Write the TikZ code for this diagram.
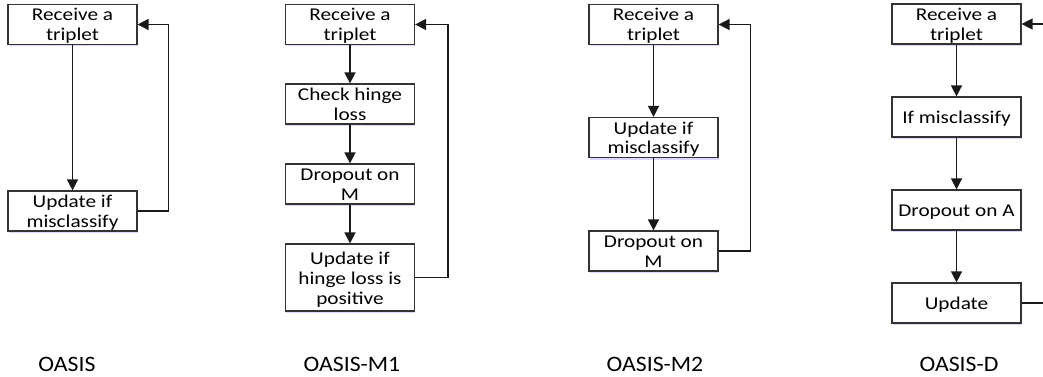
\documentclass[tikz,border=0pt]{standalone}
\usepackage{fontspec}
\newfontfamily\boxfont[FakeStretch=1.18]{Carlito}
\newfontfamily\labfont[FakeStretch=1.08]{Carlito}
\newcommand\tx[1]{\raisebox{-2.5pt}[\height][\depth]{\begin{tabular}{@{}c@{}}#1\end{tabular}}}
\usetikzlibrary{arrows.meta,shadows}
\begin{document}
\begin{tikzpicture}[x=1pt,y=-1pt,
  stepbox/.style={draw=black!80, line width=1.2pt, fill=white, minimum width=129pt,
    minimum height=40pt, inner sep=0pt,
    font=\boxfont\fontsize{18}{20}\selectfont,
    drop shadow={shadow xshift=0.8pt, shadow yshift=-2pt, fill=blue!25!white, opacity=0.6}},
  tallbox/.style={stepbox, minimum height=67pt},
  arr/.style={draw=black!90, line width=1.5pt, -{Triangle[length=11pt,width=11pt]}},
  caption/.style={font=\labfont\fontsize{22}{24}\selectfont, inner sep=0pt}]
\useasboundingbox (0,0) rectangle (1043,377);
\clip (0,0) rectangle (1043,377);
% OASIS
\node[stepbox] (a1) at (72.5,24.5) {\tx{Receive a\\triplet}};
\node[stepbox] (a2) at (72.5,211) {\tx{Update if\\misclassify}};
\draw[arr] (a1.south) -- (a2.north);
\draw[arr] (a2.east) -- ++(31,0) |- (a1.east);
\node[caption] (la) at (67,364) {OASIS};
% OASIS-M1
\node[stepbox] (b1) at (350,24.5) {\tx{Receive a\\triplet}};
\node[stepbox] (b2) at (350,104) {\tx{Check hinge\\loss}};
\node[stepbox] (b3) at (350,184) {\tx{Dropout on\\M}};
\node[tallbox] (b4) at (350,277.5) {\tx{Update if\\hinge loss is\\positive}};
\draw[arr] (b1.south) -- (b2.north);
\draw[arr] (b2.south) -- (b3.north);
\draw[arr] (b3.south) -- (b4.north);
\draw[arr] (b4.east) -- ++(33,0) |- (b1.east);
\node[caption] (lb) at (352,364) {OASIS-M1};
% OASIS-M2
\node[stepbox] (c1) at (653.5,24.5) {\tx{Receive a\\triplet}};
\node[stepbox] (c2) at (653.5,137.5) {\tx{Update if\\misclassify}};
\node[stepbox] (c3) at (653.5,251) {\tx{Dropout on\\M}};
\draw[arr] (c1.south) -- (c2.north);
\draw[arr] (c2.south) -- (c3.north);
\draw[arr] (c3.east) -- ++(32,0) |- (c1.east);
\node[caption] (lc) at (655,364) {OASIS-M2};
% OASIS-D
\node[stepbox] (d1) at (956.5,24) {\tx{Receive a\\triplet}};
\node[stepbox] (d2) at (956.5,117) {\tx{If misclassify}};
\node[stepbox] (d3) at (956.5,210) {\tx{Dropout on A}};
\node[stepbox] (d4) at (956.5,303) {\tx{Update}};
\draw[arr] (d1.south) -- (d2.north);
\draw[arr] (d2.south) -- (d3.north);
\draw[arr] (d3.south) -- (d4.north);
\draw[arr] (d4.east) -- ++(30,0) |- (d1.east);
\node[caption] (ld) at (959,364) {OASIS-D};
\end{tikzpicture}
\end{document}
